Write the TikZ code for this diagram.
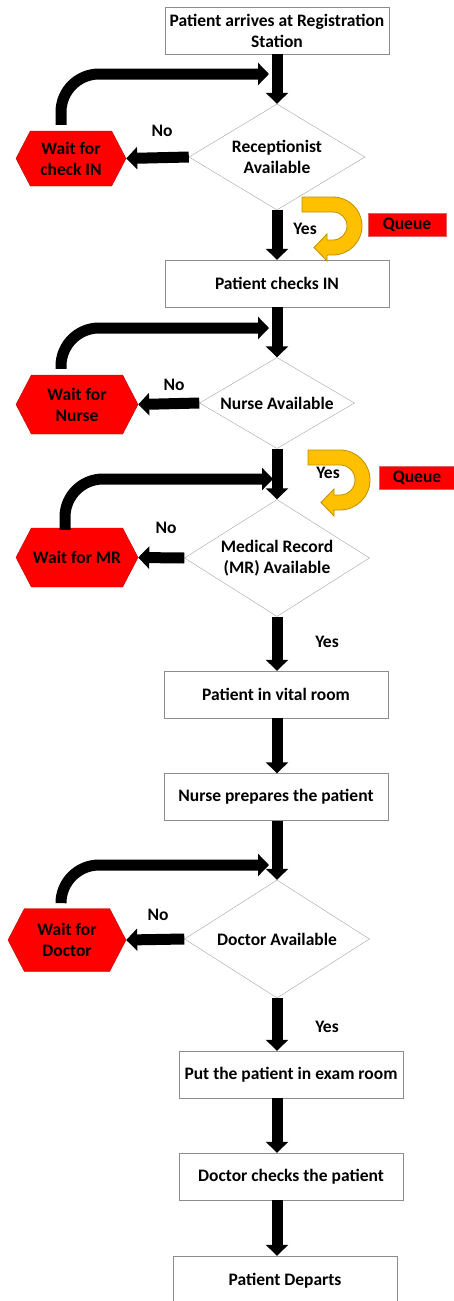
\documentclass[tikz,border=0pt]{standalone}
\usepackage{fontspec}
\setmainfont{Carlito}
\usetikzlibrary{arrows.meta,shapes.geometric,shapes.symbols,positioning,calc}

\definecolor{boxline}{HTML}{8C8C8C}
\definecolor{waitred}{HTML}{FF0000}
\definecolor{waitline}{HTML}{C00000}
\definecolor{queuefill}{HTML}{FFC000}
\definecolor{queueline}{HTML}{BF9000}

\tikzset{
    every node/.style={font=\bfseries\fontsize{17.5}{21}\selectfont},
    stepbox/.style={draw=boxline, minimum width=224pt, minimum height=47pt, align=center, inner sep=2pt},
    decision/.style={diamond, draw=boxline!80, inner sep=0pt, align=center},
    waitbox/.style={signal, signal to=east and west, signal pointer angle=125, fill=waitred, draw=waitline, align=center, inner sep=0pt},
    queuetag/.style={fill=waitred, draw=waitline!60, minimum width=78pt, minimum height=23pt, inner sep=0pt},
    flow/.style={line width=11pt, -{Triangle[width=22pt,length=11pt]}},
    loopback/.style={flow, rounded corners=38pt},
}

\begin{document}
\begin{tikzpicture}[x=1pt,y=-1pt]
        \useasboundingbox (0,0) rectangle (454,1301);
        % main column
        \node[stepbox] (arrive) at (277,30.5) {Patient arrives at Registration\\Station};
        \node[decision, aspect=1.66, minimum width=176pt, minimum height=106pt] (recep) at (277,157) {Receptionist\\Available};
        \node[stepbox] (checkin) at (277,283.5) {Patient checks IN};
        \node[decision, aspect=1.7, minimum width=155pt, minimum height=91pt] (nurse) at (277,403) {Nurse Available};
        \node[decision, aspect=1.58, minimum width=185pt, minimum height=117pt] (record) at (277,558) {Medical Record\\(MR) Available};
        \node[stepbox] (vital) at (276,694.5) {Patient in vital room};
        \node[stepbox] (prep) at (276,797) {Nurse prepares the patient};
        \node[decision, aspect=1.57, minimum width=185pt, minimum height=118pt] (doctor) at (277,939) {Doctor Available};
        \node[stepbox] (exam) at (291,1074.5) {Put the patient in exam room};
        \node[stepbox] (check) at (291,1176.5) {Doctor checks the patient};
        \node[stepbox, minimum height=49pt] (depart) at (285,1280.5) {Patient Departs};
        % waiting states
        \node[waitbox, minimum width=110pt, minimum height=55pt] (waitin) at (71,158.5) {Wait for\\check IN};
        \node[waitbox, minimum width=122pt, minimum height=59pt] (waitnurse) at (77,404.5) {Wait for\\Nurse};
        \node[waitbox, minimum width=122pt, minimum height=59pt] (waitmr) at (77,557.5) {Wait for MR};
        \node[waitbox, minimum width=118pt, minimum height=63pt] (waitdoc) at (67,940) {Wait for\\Doctor};
        % queue tags
        \node[queuetag] (queue1) at (407,224.5) {Queue};
        \node[queuetag, minimum width=76pt] (queue2) at (417,477.5) {Queue};
        % labels
        \node (no1) at (162,131) {No};
        \node (no2) at (174,385) {No};
        \node (no3) at (166,528) {No};
        \node (no4) at (158,915) {No};
        \node (yes1) at (305,229) {Yes};
        \node (yes2) at (328,473) {Yes};
        \node (yes3) at (327,642) {Yes};
        \node (yes4) at (327,1027) {Yes};

        % straight arrows
        \draw[flow] (arrive) -- (recep);
        \draw[flow] (recep) -- (checkin);
        \draw[flow] (checkin) -- (nurse);
        \draw[flow] (nurse) -- (record);
        \draw[flow] (record.south) -- (vital.north -| record.south);
        \draw[flow] (vital.south -| record.south) -- (prep.north -| record.south);
        \draw[flow] (prep.south -| record.south) -- (doctor.north);
        \draw[flow] (doctor.south) -- (exam.north -| doctor.south);
        \draw[flow] (exam.south -| doctor.south) -- (check.north -| doctor.south);
        \draw[flow] (check.south -| doctor.south) -- (depart.north -| doctor.south);
        \foreach \d/\w in {recep/waitin,nurse/waitnurse,record/waitmr,doctor/waitdoc}{
            \draw[flow] (\d.west) -- (\w.east);
        }

        % loops back to the main column
        \coordinate (back1) at (269,74);
        \coordinate (back2) at (269,328);
        \coordinate (back3) at (273,479);
        \coordinate (back4) at (269,865);
        \draw[loopback] ([xshift=-10pt,yshift=6pt]waitin.north) |- (back1);
        \draw[loopback] ([xshift=-16pt,yshift=6pt]waitnurse.north) |- (back2);
        \draw[loopback] ([xshift=-12pt,yshift=-2pt]waitmr.north) |- (back3);
        \draw[loopback] ([xshift=-6pt,yshift=8pt]waitdoc.north) |- (back4);

        % queue u-turns
        \foreach \cx/\cy/\lx/\R in {333/226/302/29,340/480/308/30}{
            \pgfmathsetmacro\r{\R-15}
            \filldraw[fill=queuefill, draw=queueline, line width=.8pt]
                (\lx,\cy-\R) -- (\cx,\cy-\R) arc[start angle=90,end angle=-90,radius=\R*1pt]
                -- (\cx-6,\cy+\R) -- (\cx-6,\cy+\R+6) -- (\cx-19,\cy+\R/2+\r/2)
                -- (\cx-6,\cy+\r-6) -- (\cx-6,\cy+\r) -- (\cx,\cy+\r)
                arc[start angle=-90,end angle=90,radius=\r*1pt] -- (\lx,\cy-\r) -- cycle;
        }
\end{tikzpicture}
\end{document}
